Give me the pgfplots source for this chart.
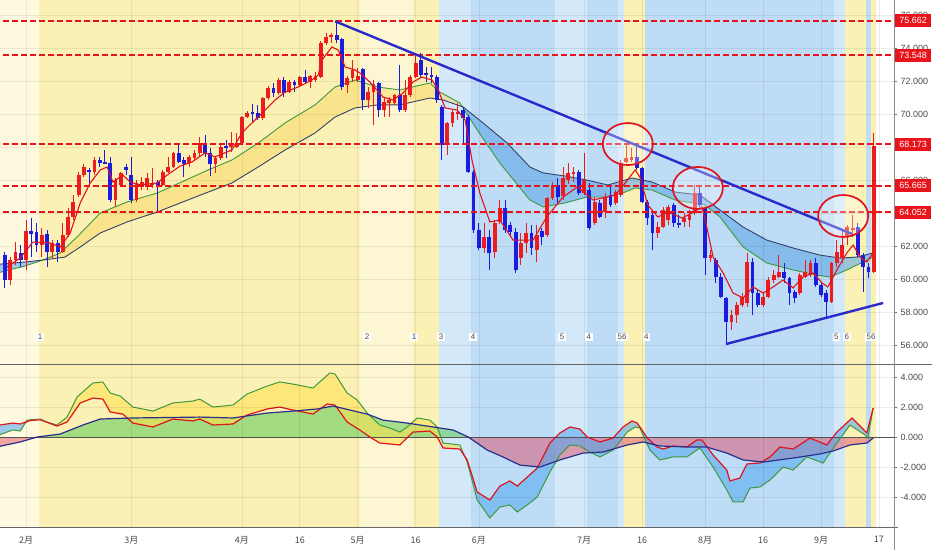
\documentclass[border=0pt]{standalone}
\usepackage{fontspec}
\setmainfont{Liberation Sans}
\newfontfamily\cjk{Noto Sans CJK JP}
\usepackage{pgfplots}
\pgfplotsset{compat=1.18}
\usepackage{pgfplotstable}

\definecolor{bgpale}{HTML}{FEF9DF}
\definecolor{bgyel}{HTML}{FBF1B5}
\definecolor{bgyel2}{HTML}{FDF6D2}
\definecolor{bgblue}{HTML}{BEDCF5}
\definecolor{bglblue}{HTML}{D3E8F8}
\definecolor{cred}{HTML}{EE1C1C}
\definecolor{cblue}{HTML}{1C1CE0}
\definecolor{lred}{HTML}{E8141B}
\definecolor{tblue}{HTML}{2A2ACC}
\definecolor{emared}{HTML}{E0141E}
\definecolor{emagreen}{HTML}{3E9A3E}
\definecolor{emadark}{HTML}{34416A}
\definecolor{ribyel}{HTML}{F7D55A}
\definecolor{ribblue}{HTML}{5FA8E6}
\definecolor{labgray}{HTML}{4A4A4A}
\definecolor{macdblue}{HTML}{2B2E8C}
\definecolor{areagreen}{HTML}{4CC84C}
\definecolor{areared}{HTML}{E0405A}
\definecolor{fyel}{HTML}{FFE04A}
\definecolor{fblue}{HTML}{4FA6EE}

% candles: index, open, high, low, close
\pgfplotstableread{
i o h l c
0 61.46 61.64 59.46 59.94
1 59.94 61.33 59.64 61.15
2 61.15 62.24 60.85 61.64
3 61.58 62.06 60.73 61.15
4 61.15 63.58 60.55 62.91
5 62.91 63.70 61.33 62.73
6 62.85 63.40 61.64 62.06
7 62.06 63.09 61.33 62.67
8 62.73 62.97 60.73 61.64
9 61.64 62.36 61.27 62.18
10 62.18 62.36 61.03 61.64
11 61.64 63.40 61.58 62.67
12 62.67 64.31 62.55 63.76
13 63.76 65.09 63.58 64.67
14 65.09 66.49 64.97 66.30
15 66.30 66.97 66.18 66.79
16 66.61 66.73 65.82 66.49
17 66.49 67.40 66.30 67.21
18 67.21 67.40 66.79 67.03
19 67.09 67.82 66.97 67.03
20 67.03 67.40 64.67 64.79
21 64.79 66.12 64.37 66.00
22 65.70 66.49 65.58 66.43
23 66.79 66.97 66.30 66.61
24 66.30 67.40 64.61 64.79
25 64.79 66.00 64.67 65.82
26 65.70 66.18 65.39 65.88
27 65.58 66.43 65.39 66.12
28 65.70 66.73 65.52 65.82
29 65.88 66.00 64.00 65.70
30 65.70 66.61 65.64 66.49
31 66.49 67.40 66.43 66.79
32 66.79 67.70 66.73 67.64
33 67.64 68.12 67.03 67.09
34 67.21 67.40 66.18 66.97
35 67.03 67.52 66.79 67.40
36 67.34 67.82 67.21 67.64
37 67.64 68.61 67.40 68.24
38 68.24 68.73 67.40 67.64
39 67.64 67.94 66.24 66.97
40 66.97 67.40 66.43 67.34
41 67.34 68.12 67.21 68.00
42 68.06 68.43 67.34 67.94
43 68.00 68.91 67.70 68.12
44 68.00 68.85 67.94 68.24
45 68.24 69.88 68.18 69.82
46 69.82 70.18 69.76 70.06
47 70.12 70.61 69.46 70.00
48 70.06 70.55 69.64 69.76
49 69.76 71.03 69.64 70.97
50 70.97 71.70 70.85 71.58
51 71.58 71.88 71.03 71.27
52 71.27 72.18 71.15 72.06
53 72.06 72.24 71.03 71.27
54 71.33 72.06 71.27 71.94
55 71.94 72.06 71.33 71.76
56 71.76 72.30 71.64 72.24
57 72.24 72.67 71.82 71.94
58 71.94 72.36 71.58 72.30
59 72.06 72.55 71.94 72.30
60 72.24 74.43 72.18 74.30
61 74.30 74.91 74.18 74.67
62 74.67 74.91 74.30 74.79
63 74.79 75.66 74.30 74.49
64 74.55 74.61 71.46 71.64
65 71.76 72.30 71.27 72.18
66 72.18 73.27 71.94 72.67
67 72.06 72.79 71.94 72.30
68 72.73 72.79 70.24 70.85
69 70.85 71.64 70.37 71.33
70 71.33 72.06 69.33 71.82
71 71.88 71.94 69.82 70.24
72 70.24 71.03 69.82 70.73
73 70.67 71.03 69.82 70.85
74 70.67 71.21 70.55 71.15
75 71.15 72.97 70.12 70.24
76 70.24 72.06 70.12 71.15
77 71.15 72.36 71.03 72.24
78 72.24 73.58 72.18 73.09
79 73.27 73.70 72.18 72.36
80 72.49 72.85 71.94 72.36
81 72.36 72.85 71.88 72.30
82 72.24 72.36 70.67 70.85
83 70.43 70.55 67.21 68.12
84 68.12 69.52 67.52 69.46
85 69.46 70.24 69.21 70.12
86 70.00 70.67 69.64 70.12
87 70.24 70.37 68.24 69.76
88 69.82 69.94 66.43 66.49
89 66.49 66.61 62.79 62.97
90 62.97 63.40 61.76 61.88
91 61.88 63.40 61.58 62.55
92 62.55 62.97 60.55 61.58
93 61.64 63.58 61.27 63.40
94 63.46 64.79 63.33 64.31
95 64.31 64.79 62.79 62.97
96 63.27 63.46 62.67 62.85
97 62.85 63.09 60.37 60.55
98 61.27 62.79 60.85 62.18
99 62.18 63.40 61.58 62.79
100 62.79 63.27 61.46 61.88
101 61.76 63.27 61.03 62.67
102 62.91 63.09 62.06 62.55
103 62.67 64.97 62.55 64.91
104 64.91 65.88 64.79 65.70
105 65.70 66.12 64.61 64.97
106 65.03 66.79 64.79 66.12
107 66.00 67.03 65.76 66.43
108 66.37 66.79 65.88 66.49
109 66.49 66.61 65.09 65.21
110 65.21 67.64 65.09 66.00
111 65.39 65.82 62.97 63.09
112 63.40 64.97 63.27 64.67
113 64.61 64.79 63.70 63.76
114 64.06 65.21 63.70 64.97
115 65.09 65.70 64.37 64.49
116 64.61 65.39 64.49 65.27
117 65.09 67.21 64.97 67.03
118 67.09 68.24 67.03 67.34
119 67.21 67.94 67.09 67.40
120 67.40 68.00 66.61 66.73
121 66.73 66.79 64.61 64.67
122 64.67 64.79 63.27 63.70
123 63.88 64.00 61.76 62.79
124 62.79 63.46 62.49 63.15
125 63.15 64.37 63.09 64.18
126 63.58 64.49 63.27 64.37
127 64.49 64.61 63.15 63.40
128 63.40 63.88 63.09 63.27
129 63.46 64.00 63.15 63.70
130 63.58 64.18 63.15 63.88
131 64.00 65.70 63.88 65.21
132 65.21 65.58 64.37 64.49
133 64.31 64.37 60.24 61.27
134 61.27 61.76 61.03 61.46
135 61.15 61.27 59.76 60.12
136 60.12 60.37 58.85 58.91
137 58.85 58.91 56.12 57.40
138 57.40 58.12 56.91 57.82
139 57.82 58.61 57.34 58.43
140 58.43 59.15 58.31 58.91
141 58.55 61.58 58.31 61.03
142 61.03 61.27 57.82 59.15
143 59.15 59.34 58.31 58.43
144 58.43 59.15 58.31 58.91
145 58.91 60.12 58.85 59.94
146 59.94 60.55 59.76 60.24
147 60.12 61.46 60.06 60.43
148 60.43 60.97 59.76 60.06
149 60.06 60.12 58.43 59.15
150 59.21 59.34 58.55 58.85
151 59.15 60.37 59.03 60.24
152 60.12 61.15 60.06 60.43
153 60.24 61.15 60.12 60.97
154 60.97 61.27 59.52 59.64
155 59.64 59.76 58.91 59.03
156 59.15 59.34 57.70 58.61
157 58.61 61.03 58.55 60.97
158 60.97 62.36 60.73 61.64
159 61.27 62.97 60.97 62.06
160 62.55 63.27 62.06 63.15
161 62.97 63.88 62.55 63.09
162 63.15 63.40 61.33 61.46
163 61.46 61.58 59.21 60.73
164 60.73 60.97 60.06 60.43
165 60.43 68.85 60.37 68.05
}\candles

\pgfplotstableread{
x y
0.4 60.73
2.9 61.27
5.3 62.24
8.6 62.18
10.5 61.94
12.4 62.79
14.3 64.61
16.2 65.82
18.1 66.61
19.4 66.79
20.5 65.88
22.4 66.30
23.8 65.88
25.7 65.70
28.9 65.82
30.8 66.30
33.3 66.85
35.5 67.09
38.0 67.64
39.9 67.40
43.1 67.82
45.0 68.85
47.5 69.64
49.4 70.24
51.3 70.85
53.2 71.33
55.7 71.64
58.3 72.06
59.5 72.36
60.2 73.27
62.1 74.06
63.3 73.88
64.6 72.85
66.5 72.67
67.4 72.49
69.3 71.94
71.8 71.03
73.7 70.85
75.6 71.27
77.5 71.94
79.2 72.24
81.1 72.06
82.3 71.46
83.6 70.37
85.9 70.24
87.4 69.64
88.7 67.21
90.2 65.21
92.1 63.46
94.0 63.58
96.5 62.36
100.3 62.36
102.9 63.76
106.0 64.97
108.7 65.58
111.7 64.79
114.3 64.97
115.9 65.09
117.8 65.82
119.7 66.61
120.6 66.18
122.1 64.49
124.0 63.76
125.9 64.06
128.6 63.70
130.5 64.00
132.4 64.37
133.3 63.15
134.5 61.33
136.4 60.37
138.3 59.15
140.2 58.85
142.1 59.52
144.0 59.15
145.9 59.52
147.8 59.94
149.7 59.46
151.6 60.12
153.5 60.37
155.2 59.76
156.3 59.52
158.0 60.55
159.9 61.58
161.1 62.06
162.4 61.33
163.7 61.03
164.9 61.58
}\emaR

\pgfplotstableread{
x y
-1 60.40
3.8 60.79
7.2 61.15
10.5 61.58
13.7 62.55
18.1 64.00
23.2 64.67
28.9 65.21
32.3 65.70
38.6 66.61
43.1 67.21
48.1 68.24
53.2 69.46
58.9 70.55
62.7 71.64
66.5 72.06
70.7 71.64
75.0 71.46
80.7 71.88
82.6 71.33
86.4 70.67
89.7 69.03
94.0 67.03
99.7 64.79
102.2 64.37
106.4 64.61
110.5 64.97
114.5 64.97
117.8 65.27
119.7 65.52
122.9 65.39
127.3 64.79
132.9 64.49
135.8 63.76
140.2 61.94
144.7 60.97
149.7 60.55
154.2 60.24
156.7 60.12
159.9 60.55
163.0 61.03
164.9 61.33
}\emaG

\pgfplotstableread{
x y
-1 60.90
3.8 61.03
7.2 61.15
11.4 61.33
14.3 61.94
18.1 62.79
23.2 63.46
28.9 64.06
33.3 64.61
38.6 65.27
43.1 65.82
48.1 66.79
53.2 67.82
58.9 68.85
62.7 69.82
66.5 70.37
70.7 70.55
75.0 70.55
80.7 70.97
83.2 70.85
87.0 70.43
90.8 69.46
95.4 68.24
99.7 66.79
102.2 66.43
106.4 66.24
110.5 66.00
114.5 65.70
119.1 66.12
122.9 65.88
127.3 65.27
132.0 65.09
135.8 64.18
140.2 63.15
144.7 62.36
149.7 61.88
154.8 61.45
158.6 61.27
161.8 61.33
164.9 61.58
}\emaD

\pgfplotstableread{
x y
-1 0.15
1.5 0.47
2.9 0.40
4.2 1.13
6.7 1.20
8.0 1.00
9.9 0.80
11.8 1.33
13.7 2.67
16.7 3.60
18.6 3.67
20.0 2.93
21.9 2.73
24.3 2.00
28.1 1.73
31.9 2.27
35.7 2.40
37.0 2.53
39.5 2.00
43.3 2.13
46.0 2.87
49.8 3.40
52.2 3.67
54.7 3.53
58.5 3.27
61.7 4.27
62.7 4.20
65.0 2.93
66.9 2.47
68.8 1.60
71.2 0.80
73.1 0.60
75.0 0.33
76.4 0.67
78.3 1.27
80.7 1.13
82.1 0.67
83.2 -0.40
86.4 -0.53
87.8 -1.67
89.7 -4.20
92.1 -5.40
94.0 -4.67
95.9 -4.53
97.3 -5.00
99.2 -4.53
101.1 -4.00
103.5 -2.33
105.4 -1.20
107.3 -0.53
109.2 -0.60
111.1 -1.00
113.0 -1.33
115.5 -0.87
118.2 0.33
119.7 0.67
120.6 0.60
122.5 -0.87
124.4 -1.53
126.9 -1.33
129.5 -1.33
132.0 -0.73
134.5 -2.00
137.1 -3.53
138.3 -4.33
140.2 -4.33
141.5 -3.40
143.4 -3.33
145.3 -2.87
147.8 -2.00
149.7 -2.20
152.3 -1.33
155.4 -1.73
158.0 -0.40
160.5 0.80
163.4 0.13
163.9 -0.07
164.9 1.93
}\oscG

\pgfplotstableread{
x y
-1 0.80
1.5 0.93
2.9 0.87
4.8 1.10
6.7 1.15
9.9 0.73
11.8 1.00
14.3 2.27
16.7 2.60
18.6 2.53
20.0 1.67
22.4 1.53
24.3 0.93
28.1 0.67
31.9 1.20
35.7 1.07
37.0 1.20
39.5 0.80
43.3 0.87
46.0 1.47
49.8 1.87
52.2 2.00
54.7 1.80
58.5 1.53
61.2 2.20
62.7 2.13
65.0 1.00
67.4 0.47
69.3 0.00
71.2 -0.40
75.0 -0.53
77.5 0.33
80.7 0.40
82.1 0.00
83.2 -0.73
86.4 -0.80
87.8 -1.53
89.7 -3.67
92.1 -4.20
94.0 -3.27
95.9 -2.93
97.3 -3.27
99.2 -2.67
101.1 -2.07
103.5 -0.40
105.4 0.27
107.3 0.67
109.2 0.53
110.6 0.00
113.0 -0.33
115.5 -0.07
117.4 0.67
119.1 1.07
120.1 0.93
122.0 -0.07
123.9 -0.67
125.0 -0.80
126.9 -0.60
129.5 -0.67
131.4 -0.20
132.4 -0.20
134.5 -1.20
137.1 -2.20
137.7 -2.93
139.6 -2.73
140.9 -1.80
143.4 -1.73
145.3 -1.33
147.2 -0.67
149.7 -0.80
152.9 -0.07
156.1 -0.53
158.0 0.33
160.9 1.27
163.7 0.27
164.9 1.93
}\oscR

\pgfplotstableread{
x y
-1 -0.62
2.9 -0.33
6.1 0.00
10.5 0.20
14.8 0.80
18.1 1.20
24.3 1.27
37.0 1.33
43.3 1.27
49.8 1.60
54.7 1.73
59.3 1.87
62.3 2.07
65.5 1.80
68.8 1.53
71.8 1.13
76.4 0.93
81.3 0.67
85.1 0.47
88.0 0.00
91.6 -0.87
94.6 -1.33
97.8 -1.87
101.6 -2.00
105.4 -1.53
109.8 -1.07
113.6 -1.00
118.2 -0.53
121.2 -0.33
124.4 -0.60
130.7 -0.67
133.3 -0.67
137.1 -1.07
140.2 -1.53
144.0 -1.67
149.7 -1.40
154.8 -1.13
157.3 -0.93
160.5 -0.53
163.7 -0.40
164.9 -0.07
}\oscD

\newcommand{\bandrect}[5]{\addplot[draw=none,fill=#1,forget plot] coordinates {(#2,#4) (#3,#4) (#3,#5) (#2,#5)};}
\newcommand{\bands}[2]{%
\bandrect{bgpale}{-2}{6.5}{#1}{#2}
\bandrect{bgyel}{6.5}{67.5}{#1}{#2}
\bandrect{bgyel2}{67.5}{77.5}{#1}{#2}
\bandrect{bgyel}{77.5}{82.5}{#1}{#2}
\bandrect{bglblue}{82.5}{88.5}{#1}{#2}
\bandrect{bgblue}{88.5}{104.5}{#1}{#2}
\bandrect{bglblue}{104.5}{110.5}{#1}{#2}
\bandrect{bgblue}{110.5}{116.5}{#1}{#2}
\bandrect{bglblue}{116.5}{117.5}{#1}{#2}
\bandrect{bgyel}{117.5}{121.5}{#1}{#2}
\bandrect{bgblue}{121.5}{157.5}{#1}{#2}
\bandrect{bglblue}{157.5}{159.5}{#1}{#2}
\bandrect{bgyel}{159.5}{163.5}{#1}{#2}
\bandrect{bgblue}{163.5}{164.5}{#1}{#2}
\bandrect{bgyel}{164.5}{165.5}{#1}{#2}
}
\newcommand{\numlab}[2]{\node[fill=white, inner xsep=1.5pt, inner ysep=1.5pt, text=labgray, font=\fontsize{8}{9}\selectfont] at (axis cs:#1,56.49) {#2};}
\newcommand{\level}[1]{\addplot[draw=lred, line width=2pt, dash pattern=on 6pt off 3pt, forget plot] coordinates {(-2,#1) (170,#1)};}
\newcommand{\levlab}[2]{\node[fill=lred, text=white, font=\fontsize{9}{10}\selectfont, inner sep=0pt,
        minimum width=36pt, minimum height=13pt, anchor=west] at ([xshift=1pt]#1) {#2};}
\newcommand{\candleplot}[2]{%
\addplot[draw=none, mark=none, forget plot,
  restrict expr to domain={\thisrow{c}-\thisrow{o}}{#2},
  error bars/.cd, y dir=both, y explicit, error mark=none,
  error bar style={draw=#1, line width=1pt, solid}]
  table[x=i, y expr={(\thisrow{h}+\thisrow{l})/2}, y error expr={(\thisrow{h}-\thisrow{l})/2}]{\candles};
\addplot[draw=none, mark=none, forget plot,
  restrict expr to domain={\thisrow{c}-\thisrow{o}}{#2},
  error bars/.cd, y dir=both, y explicit, error mark=none,
  error bar style={draw=#1, line width=3.8pt, solid}]
  table[x=i, y expr={(\thisrow{o}+\thisrow{c})/2}, y error expr={max(abs(\thisrow{c}-\thisrow{o})/2,0.04)}]{\candles};
}

\pgfplotsset{
  common/.style={
    scale only axis, width=894pt,
    xmin=-0.94, xmax=168.86,
    axis line style={draw=none},
    axis on top,
    xtick={4,24,45,56,67,78,90,110,121,133,144,155,166},
    xtick style={draw=none},
    ytick pos=right,
    tick align=outside,
    major tick length=3pt,
    ytick style={draw=black!55, line width=0.6pt},
    grid=major,
    major grid style={draw=black, opacity=0.07, line width=0.6pt},
    yticklabel style={font=\fontsize{9}{10}\selectfont, text=labgray,
      /pgf/number format/.cd, fixed, fixed zerofill, precision=3, assume math mode=true},
  },
}

\begin{document}
\begin{tikzpicture}

% ---------------- main price panel ----------------
\begin{axis}[common,
  at={(0pt,186pt)}, anchor=south west, height=364pt,
  ymin=54.85, ymax=76.91,
  xticklabels={},
  ytick={56,58,60,62,64,66,68,70,72,74,76},
]
\bands{50}{80}

% ribbon between the two slower averages (same values as the tables)
\addplot[fill=ribblue, fill opacity=0.6, draw=none, forget plot] coordinates {
 (-1,60.40) (3.8,60.79) (7.2,61.15) (3.8,61.03) (-1,60.90)};
\addplot[fill=ribyel, fill opacity=0.45, draw=none, forget plot] coordinates {
 (7.2,61.15) (10.5,61.58) (13.7,62.55) (18.1,64.00) (23.2,64.67) (28.9,65.21) (32.3,65.70) (38.6,66.61)
 (43.1,67.21) (48.1,68.24) (53.2,69.46) (58.9,70.55) (62.7,71.64) (66.5,72.06) (70.7,71.64) (75.0,71.46)
 (80.7,71.88) (82.6,71.33) (86.4,70.67) (86.8,70.47)
 (83.2,70.85) (80.7,70.97) (75.0,70.55) (70.7,70.55) (66.5,70.37) (62.7,69.82) (58.9,68.85) (53.2,67.82)
 (48.1,66.79) (43.1,65.82) (38.6,65.27) (33.3,64.61) (28.9,64.06) (23.2,63.46) (18.1,62.79) (14.3,61.94) (11.4,61.33)};
\addplot[fill=ribblue, fill opacity=0.6, draw=none, forget plot] coordinates {
 (86.8,70.47) (89.7,69.03) (94.0,67.03) (99.7,64.79) (102.2,64.37) (106.4,64.61) (110.5,64.97) (114.5,64.97)
 (117.8,65.27) (119.7,65.52) (122.9,65.39) (127.3,64.79) (132.9,64.49) (135.8,63.76) (140.2,61.94) (144.7,60.97)
 (149.7,60.55) (154.2,60.24) (156.7,60.12) (159.9,60.55) (163.0,61.03) (164.9,61.33)
 (164.9,61.58) (161.8,61.33) (158.6,61.27) (154.8,61.45) (149.7,61.88) (144.7,62.36) (140.2,63.15) (135.8,64.18)
 (132.0,65.09) (127.3,65.27) (122.9,65.88) (119.1,66.12) (114.5,65.70) (110.5,66.00) (106.4,66.24) (102.2,66.43)
 (99.7,66.79) (95.4,68.24) (90.8,69.46) (87.0,70.43)};
\addplot[emagreen, line width=0.9pt] table[x=x,y=y]{\emaG};
\addplot[emadark, line width=0.9pt] table[x=x,y=y]{\emaD};

\candleplot{cred}{0:100}
\candleplot{cblue}{-100:0}

\addplot[emared, line width=1.1pt] table[x=x,y=y]{\emaR};

\level{75.662}
\level{73.548}
\level{68.173}
\level{65.665}
\level{64.052}

\addplot[tblue, line width=2.4pt] coordinates {(62.7,75.62) (160.9,62.73)};
\addplot[tblue, line width=2.4pt] coordinates {(136.95,56.06) (166.8,58.55)};

\draw[emared, line width=1.7pt, fill=white, fill opacity=0.3] (axis cs:118.3,68.18) ellipse [x radius=25pt, y radius=21pt];
\draw[emared, line width=1.7pt, fill=white, fill opacity=0.3] (axis cs:131.6,65.52) ellipse [x radius=25pt, y radius=21pt];
\draw[emared, line width=1.7pt, fill=white, fill opacity=0.3] (axis cs:159.2,63.82) ellipse [x radius=25pt, y radius=21pt];

\numlab{6.66}{1}
\numlab{68.77}{2}
\numlab{77.69}{1}
\numlab{82.82}{3}
\numlab{88.9}{4}
\numlab{105.8}{5}
\numlab{110.9}{4}
\numlab{117.2}{56}
\numlab{121.8}{4}
\numlab{157.9}{5}
\numlab{159.9}{6}
\numlab{164.5}{56}

\coordinate (L1) at (axis cs:168.86,75.662);
\coordinate (L2) at (axis cs:168.86,73.548);
\coordinate (L3) at (axis cs:168.86,68.173);
\coordinate (L4) at (axis cs:168.86,65.665);
\coordinate (L5) at (axis cs:168.86,64.052);
\end{axis}

% ---------------- oscillator panel ----------------
\begin{axis}[common,
  at={(0pt,23pt)}, anchor=south west, height=163pt,
  ymin=-6.0, ymax=4.87,
  ytick={-4,-2,0,2,4},
  xticklabels={{2月},{3月},{4月},{16},{5月},{16},{6月},{7月},{16},{8月},{16},{9月},{17}},
  xticklabel style={font=\cjk\fontsize{9}{10}\selectfont, text=labgray, yshift=-3pt},
]
\bands{-10}{10}
\addplot[fill=areared, fill opacity=0.45, draw=none, forget plot] coordinates {
 (-1,0) (-1,-0.62) (2.9,-0.33) (6.1,0.00)};
\addplot[fill=areagreen, fill opacity=0.5, draw=none, forget plot] coordinates {
 (6.1,0.00) (10.5,0.20) (14.8,0.80) (18.1,1.20) (24.3,1.27) (37.0,1.33) (43.3,1.27) (49.8,1.60) (54.7,1.73)
 (59.3,1.87) (62.3,2.07) (65.5,1.80) (68.8,1.53) (71.8,1.13) (76.4,0.93) (81.3,0.67) (85.1,0.47) (88.0,0.00)};
\addplot[fill=areared, fill opacity=0.45, draw=none, forget plot] coordinates {
 (88.0,0.00) (91.6,-0.87) (94.6,-1.33) (97.8,-1.87) (101.6,-2.00) (105.4,-1.53) (109.8,-1.07) (113.6,-1.00)
 (118.2,-0.53) (121.2,-0.33) (124.4,-0.60) (130.7,-0.67) (133.3,-0.67) (137.1,-1.07) (140.2,-1.53) (144.0,-1.67)
 (149.7,-1.40) (154.8,-1.13) (157.3,-0.93) (160.5,-0.53) (163.7,-0.40) (164.9,-0.07) (164.9,0)};
\addplot[fill=fblue, fill opacity=0.55, draw=none, forget plot] coordinates {
 (-1,0.80) (1.5,0.93) (2.9,0.87) (4.0,1.00) (2.9,0.40) (1.5,0.47) (-1,0.15)};
\addplot[fill=fyel, fill opacity=0.55, draw=none, forget plot] coordinates {
 (4.0,1.00) (4.2,1.13) (6.7,1.20) (8.0,1.00) (9.9,0.80) (11.8,1.33) (13.7,2.67) (16.7,3.60) (18.6,3.67)
 (20.0,2.93) (21.9,2.73) (24.3,2.00) (28.1,1.73) (31.9,2.27) (35.7,2.40) (37.0,2.53) (39.5,2.00) (43.3,2.13)
 (46.0,2.87) (49.8,3.40) (52.2,3.67) (54.7,3.53) (58.5,3.27) (61.7,4.27) (62.7,4.20) (65.0,2.93) (66.9,2.47)
 (68.8,1.60) (71.2,0.80) (73.1,0.60) (75.0,0.33) (76.4,0.67) (78.3,1.27) (80.7,1.13) (82.1,0.67) (83.2,-0.40)
 (86.4,-0.53) (87.3,-1.28)
 (86.4,-0.80) (83.2,-0.73) (82.1,0.00) (80.7,0.40) (77.5,0.33) (75.0,-0.53) (71.2,-0.40) (69.3,0.00) (67.4,0.47)
 (65.0,1.00) (62.7,2.13) (61.2,2.20) (58.5,1.53) (54.7,1.80) (52.2,2.00) (49.8,1.87) (46.0,1.47) (43.3,0.87)
 (39.5,0.80) (37.0,1.20) (35.7,1.07) (31.9,1.20) (28.1,0.67) (24.3,0.93) (22.4,1.53) (20.0,1.67) (18.6,2.53)
 (16.7,2.60) (14.3,2.27) (11.8,1.00) (9.9,0.73) (6.7,1.15) (4.8,1.10)};
\addplot[fill=fblue, fill opacity=0.55, draw=none, forget plot] coordinates {
 (87.3,-1.28) (87.8,-1.53) (89.7,-3.67) (92.1,-4.20) (94.0,-3.27) (95.9,-2.93) (97.3,-3.27) (99.2,-2.67)
 (101.1,-2.07) (103.5,-0.40) (105.4,0.27) (107.3,0.67) (109.2,0.53) (110.6,0.00) (113.0,-0.33) (115.5,-0.07)
 (117.4,0.67) (119.1,1.07) (120.1,0.93) (122.0,-0.07) (123.9,-0.67) (125.0,-0.80) (126.9,-0.60) (129.5,-0.67)
 (131.4,-0.20) (132.4,-0.20) (134.5,-1.20) (137.1,-2.20) (137.7,-2.93) (139.6,-2.73) (140.9,-1.80) (143.4,-1.73)
 (145.3,-1.33) (147.2,-0.67) (149.7,-0.80) (152.9,-0.07) (156.1,-0.53) (158.0,0.33) (160.9,1.27) (163.7,0.27)
 (164.9,1.93)
 (163.9,-0.07) (163.4,0.13) (160.5,0.80) (158.0,-0.40) (155.4,-1.73) (152.3,-1.33) (149.7,-2.20) (147.8,-2.00)
 (145.3,-2.87) (143.4,-3.33) (141.5,-3.40) (140.2,-4.33) (138.3,-4.33) (137.1,-3.53) (134.5,-2.00) (132.0,-0.73)
 (129.5,-1.33) (126.9,-1.33) (124.4,-1.53) (122.5,-0.87) (120.6,0.60) (119.7,0.67) (118.2,0.33) (115.5,-0.87)
 (113.0,-1.33) (111.1,-1.00) (109.2,-0.60) (107.3,-0.53) (105.4,-1.20) (103.5,-2.33) (101.1,-4.00) (99.2,-4.53)
 (97.3,-5.00) (95.9,-4.53) (94.0,-4.67) (92.1,-5.40) (89.7,-4.20) (87.8,-1.67)};
\addplot[black!65, line width=1pt] coordinates {(-2,0) (170,0)};
\addplot[emagreen, line width=1pt] table[x=x,y=y]{\oscG};
\addplot[emared, line width=1.2pt] table[x=x,y=y]{\oscR};
\addplot[macdblue, line width=1.2pt] table[x=x,y=y]{\oscD};
\end{axis}

\draw[black!60, line width=1pt] (0pt,186pt) -- (932pt,186pt);
\draw[black!60, line width=0.9pt] (0pt,23pt) -- (898pt,23pt);
\draw[black!45, line width=0.8pt] (894pt,0pt) -- (894pt,550pt);

\levlab{L1}{75.662}
\levlab{L2}{73.548}
\levlab{L3}{68.173}
\levlab{L4}{65.665}
\levlab{L5}{64.052}

\pgfresetboundingbox
\path[use as bounding box] (0pt,0pt) rectangle (932pt,550pt);
\end{tikzpicture}
\end{document}
